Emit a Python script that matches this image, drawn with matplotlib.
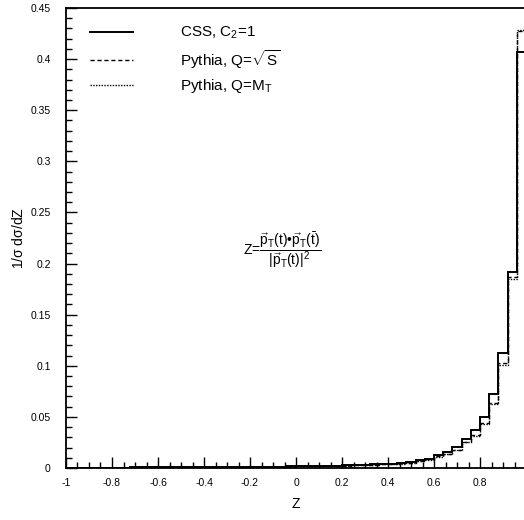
import numpy as np
import matplotlib
matplotlib.use("Agg")
import matplotlib.pyplot as plt
from matplotlib.ticker import MultipleLocator

plt.rcParams['font.family'] = ['Liberation Sans', 'DejaVu Sans']
plt.rcParams['mathtext.fontset'] = 'custom'
plt.rcParams['mathtext.rm'] = 'Liberation Sans'
plt.rcParams['mathtext.it'] = 'Liberation Sans'
plt.rcParams['mathtext.bf'] = 'Liberation Sans:bold'

# Histogram bin edges (Z from -1 to 1, 50 bins)
edges = np.linspace(-1, 1, 51)

# 1/sigma dsigma/dZ per bin
css = [0.0003, 0.0003, 0.0003, 0.0004, 0.0004, 0.0004, 0.0004, 0.0005, 0.0005, 0.0005,
       0.0006, 0.0006, 0.0006, 0.0007, 0.0007, 0.0008, 0.0008, 0.0009, 0.0009, 0.0010,
       0.0011, 0.0012, 0.0013, 0.0014, 0.0015, 0.0017, 0.0018, 0.0020, 0.0022, 0.0024,
       0.0026, 0.0029, 0.0032, 0.0035, 0.0039, 0.0043, 0.0048, 0.0055,
       0.0075, 0.0092, 0.0127, 0.0157, 0.0205, 0.0284, 0.0372, 0.0499, 0.0724, 0.1125,
       0.1917, 0.4070]
pythia_s = [0.0002, 0.0002, 0.0003, 0.0003, 0.0003, 0.0003, 0.0004, 0.0004, 0.0004, 0.0005,
            0.0005, 0.0005, 0.0006, 0.0006, 0.0007, 0.0007, 0.0008, 0.0008, 0.0009, 0.0009,
            0.0010, 0.0011, 0.0012, 0.0013, 0.0014, 0.0015, 0.0017, 0.0018, 0.0020, 0.0022,
            0.0024, 0.0026, 0.0029, 0.0032, 0.0036, 0.0040, 0.0045, 0.0050,
            0.0068, 0.0085, 0.0115, 0.0140, 0.0180, 0.0254, 0.0320, 0.0440, 0.0636, 0.1027,
            0.1870, 0.4275]
pythia_mt = [0.0002, 0.0002, 0.0003, 0.0003, 0.0003, 0.0003, 0.0004, 0.0004, 0.0004, 0.0005,
             0.0005, 0.0005, 0.0006, 0.0006, 0.0006, 0.0007, 0.0008, 0.0008, 0.0009, 0.0009,
             0.0010, 0.0011, 0.0012, 0.0013, 0.0014, 0.0015, 0.0016, 0.0018, 0.0020, 0.0022,
             0.0024, 0.0026, 0.0029, 0.0032, 0.0035, 0.0039, 0.0044, 0.0049,
             0.0066, 0.0083, 0.0112, 0.0138, 0.0177, 0.0250, 0.0312, 0.0430, 0.0630, 0.1010,
             0.1850, 0.4285]

labels = [r'CSS, C$_2$=1', r'Pythia, Q=$\sqrt{\mathrm{S}}$', r'Pythia, Q=M$_\mathrm{T}$']

fig = plt.figure(figsize=(5.24, 5.20), dpi=100)
ax = fig.add_axes([66 / 524, 52 / 520, 460 / 524, 460 / 520])

ax.stairs(css, edges, color='black', lw=1.4, label=labels[0])
ax.stairs(pythia_s, edges, color='black', lw=1.0, linestyle=(0, (3, 2)), label=labels[1])
ax.stairs(pythia_mt, edges, color='black', lw=1.0, linestyle=(0, (1, 1)), label=labels[2])

ax.set_xlim(-1, 1)
ax.set_ylim(0, 0.45)
ax.xaxis.set_major_locator(MultipleLocator(0.2))
ax.xaxis.set_minor_locator(MultipleLocator(0.05))
ax.yaxis.set_major_locator(MultipleLocator(0.05))
ax.yaxis.set_minor_locator(MultipleLocator(0.01))


def fmt(v, p):
    if abs(v) < 1e-9:
        return '0'
    if v > 0.99:  # the right edge label is cut off in the original
        return ''
    return f'{v:g}'


ax.xaxis.set_major_formatter(plt.FuncFormatter(fmt))
ax.yaxis.set_major_formatter(plt.FuncFormatter(lambda v, p: '0' if abs(v) < 1e-9 else f'{v:g}'))
ax.tick_params(which='both', direction='in', labelsize=7.5, width=1.0)
ax.tick_params(which='major', length=8)
ax.tick_params(axis='x', which='major', pad=7)
ax.tick_params(axis='y', which='major', pad=11)
ax.tick_params(which='minor', length=4)
for s in ax.spines.values():
    s.set_linewidth(1.3)

ax.set_xlabel('Z', fontsize=10, labelpad=7)
ax.set_ylabel(r'1/$\sigma$ d$\sigma$/dZ', fontsize=10, labelpad=3)

ax.text(-0.06, 0.213,
        'Z=$\\dfrac{\\vec{\\mathrm{p}}_\\mathrm{T}(\\mathrm{t})\u2022\\vec{\\mathrm{p}}_\\mathrm{T}(\\bar{\\mathrm{t}})}'
        '{|\\vec{\\mathrm{p}}_\\mathrm{T}(\\mathrm{t})|^2}$',
        fontsize=10, ha='center', va='center')

ax.legend(loc='upper left', frameon=False, fontsize=11, handlelength=2.8,
          handletextpad=3.1, labelspacing=0.42, borderpad=0.4,
          bbox_to_anchor=(0.022, 0.993))

fig.savefig('out.png', dpi=100)
